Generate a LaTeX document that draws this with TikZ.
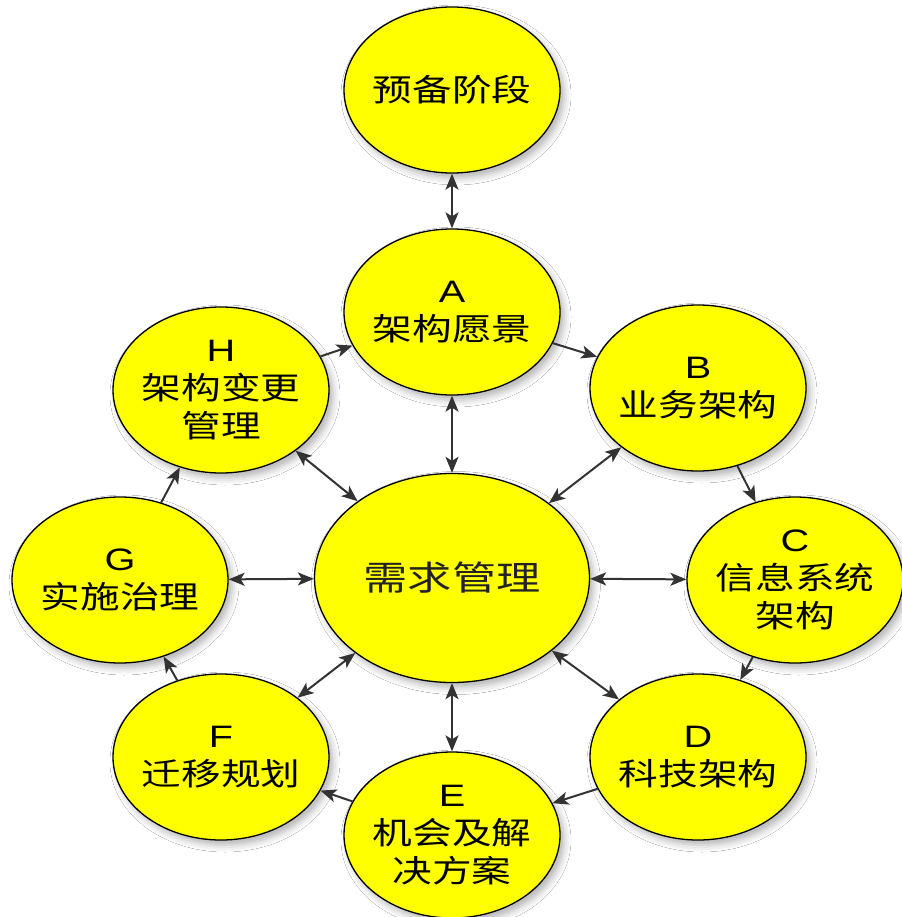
\documentclass[tikz,border=0pt]{standalone}
\usepackage{fontspec}
\usepackage{graphicx}
\newfontfamily\cjk{Noto Sans CJK SC}
\newfontfamily\lat{Liberation Sans}
\usetikzlibrary{arrows.meta,shapes.geometric,shadows.blur}
\definecolor{bubyellow}{HTML}{FFFF00}
\definecolor{arrowgray}{HTML}{333333}
\definecolor{midtext}{HTML}{222222}
\newcommand\mywide[1]{\scalebox{1.28}[1]{#1}}
\newcommand\myletter[1]{\mywide{\lat\fontsize{31}{33}\selectfont #1}}
\begin{document}
\begin{tikzpicture}[x=1pt,y=-1pt,
  bub/.style={ellipse, draw=black, line width=1.3pt, fill=bubyellow,
    minimum width=216pt, minimum height=166pt, inner sep=0pt,
    blur shadow={shadow xshift=4pt, shadow yshift=-5pt, shadow blur radius=7pt, shadow opacity=30}},
  bigbub/.style={bub, minimum width=275pt, minimum height=209pt},
  txt/.style={align=center, inner sep=0pt, font=\cjk\fontsize{31}{38}\selectfont},
  midtxt/.style={txt, text=midtext, font=\cjk\fontsize{34}{40}\selectfont},
  one/.style={draw=arrowgray, line width=2pt, -{Stealth[length=16pt,width=13pt,inset=4pt]}},
  two/.style={draw=arrowgray, line width=2pt, {Stealth[length=16pt,width=13pt,inset=4pt]}-{Stealth[length=16pt,width=13pt,inset=4pt]}}
]
\useasboundingbox (0,0) rectangle (901,917);
\fill[white] (0,0) rectangle (901,917);

\node[bub] (P) at (452,90) {};
\node[bub] (A) at (452,312) {};
\node[bub] (B) at (698,388) {};
\node[bub] (C) at (795,580) {};
\node[bub] (D) at (698,757) {};
\node[bub] (E) at (452,835) {};
\node[bub] (F) at (221,757) {};
\node[bub] (G) at (120,580) {};
\node[bub] (H) at (221,390) {};
\node[bigbub] (M) at (452,578) {};

\node[txt] (Pt) at (P) {\mywide{预备阶段}};
\node[txt] (At) at (A) {\myletter{A}\\\mywide{架构愿景}};
\node[txt] (Bt) at (B) {\myletter{B}\\\mywide{业务架构}};
\node[txt] (Ct) at (C) {\myletter{C}\\\mywide{信息系统}\\\mywide{架构}};
\node[txt] (Dt) at (D) {\myletter{D}\\\mywide{科技架构}};
\node[txt] (Et) at (E) {\myletter{E}\\\mywide{机会及解}\\\mywide{决方案}};
\node[txt] (Ft) at (F) {\myletter{F}\\\mywide{迁移规划}};
\node[txt] (Gt) at (G) {\myletter{G}\\\mywide{实施治理}};
\node[txt] (Ht) at (H) {\myletter{H}\\\mywide{架构变更}\\\mywide{管理}};
\node[midtxt] (Mt) at (M) {\scalebox{1.3}[1]{需求管理}};

\draw[two] (P) -- (A);
\draw[two] (A) -- (M);
\draw[one] (H) -- (A);
\draw[one] (A) -- (B);
\draw[one] (B) -- (C);
\draw[one] (C) -- (D);
\draw[one] (D) -- (E);
\draw[one] (E) -- (F);
\draw[one] (F) -- (G);
\draw[one] (G) -- (H);
\draw[two] (M) -- (H);
\draw[two] (M) -- (B);
\draw[two] (M) -- (C);
\draw[two] (M) -- (D);
\draw[two] (M) -- (E);
\draw[two] (M) -- (F);
\draw[two] (M) -- (G);
\end{tikzpicture}
\end{document}
